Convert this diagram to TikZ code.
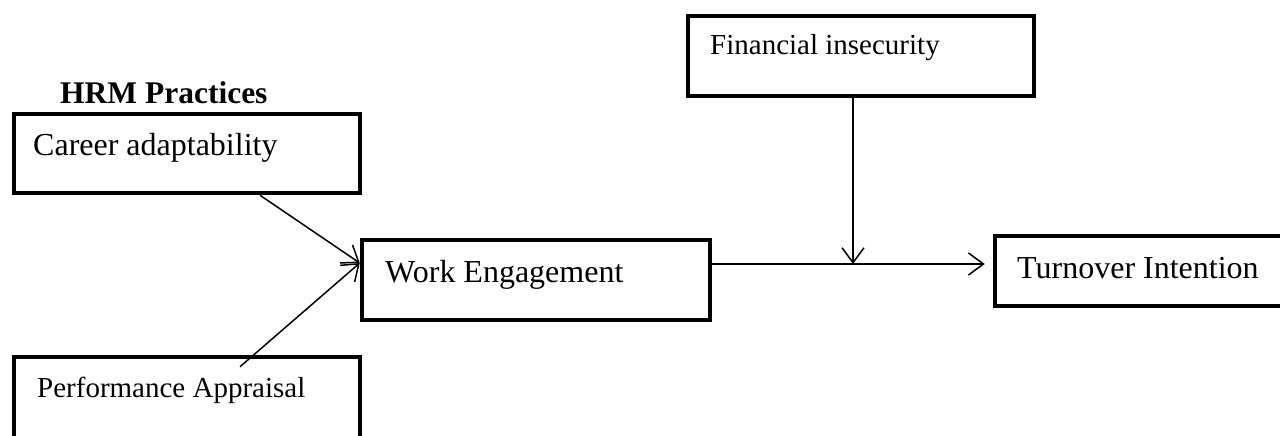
\documentclass[tikz,border=0pt]{standalone}
\usepackage{fontspec}
\setmainfont{Liberation Serif}
\usetikzlibrary{arrows.meta,calc}
\begin{document}
\begin{tikzpicture}[x=1pt,y=-1pt,
  box/.style={draw=black, line width=4.5pt, rectangle, inner sep=0pt, fill=none},
  bigtxt/.style={inner sep=0pt, anchor=base west, font=\fontsize{32}{38}\selectfont},
  smalltxt/.style={inner sep=0pt, anchor=base west, font=\fontsize{29}{35}\selectfont},
  conn/.style={draw=black, line width=1.5pt, -{Straight Barb[length=15pt,width=22pt,line width=1.5pt]}},
  plainconn/.style={draw=black, line width=1.5pt}]
\useasboundingbox (0,0) rectangle (1280,436);
% boxes
\node[box, minimum width=346pt, minimum height=79pt] (car) at (187,153.5) {};
\node[box, minimum width=346pt, minimum height=110pt] (perf) at (187,412) {};
\node[box, minimum width=348pt, minimum height=80pt] (we) at (536,280) {};
\node[box, minimum width=346pt, minimum height=80pt] (fin) at (861,56) {};
\node[box, minimum width=300pt, minimum height=70pt] (tur) at (1145,271) {};
% texts
\node[inner sep=0pt, anchor=base west, font=\bfseries\fontsize{31.5}{36}\selectfont] (hrm) at (60,103) {HRM Practices};
\node[bigtxt] (cart) at (33,155) {Career adaptability};
\node[smalltxt] (perft) at (37,397) {Performance Appraisal};
\node[bigtxt] (wet) at (385,282) {Work Engagement};
\node[smalltxt] (fint) at (710,55) {Financial insecurity};
\node[bigtxt] (turt) at (1017,278) {Turnover Intention};
% connectors
\draw[conn] ([xshift=73pt]car.south) -- ([yshift=17pt]we.west);
\draw[conn] ([xshift=53pt,yshift=-12pt]perf.north) -- ([yshift=17pt]we.west);
\draw[conn] ([yshift=16pt]we.east) -- ([xshift=-8pt,yshift=7pt]tur.west);
\coordinate (mid) at (853,264);
\draw[conn] ([xshift=-8pt]fin.south) -- (mid);
\end{tikzpicture}
\end{document}
